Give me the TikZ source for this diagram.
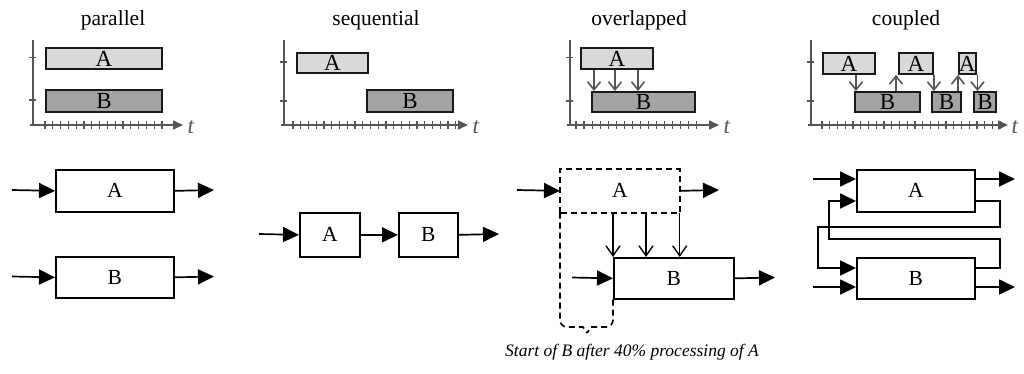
\documentclass[tikz,border=0pt]{standalone}
\usepackage{fontspec}
\setmainfont{Liberation Serif}
\usetikzlibrary{arrows.meta,calc}
\definecolor{axgray}{HTML}{555555}
\definecolor{fillA}{HTML}{D9D9D9}
\definecolor{fillB}{HTML}{A3A3A3}
\tikzset{
  x=1pt,y=-1pt,
  ax/.style={draw=axgray,line width=1.6pt},
  axarrow/.style={ax,-{Triangle[length=10pt,width=9pt]}},
  tbox/.style={draw=black!90,line width=1.9pt,inner sep=0pt,anchor=north west,font=\fontsize{23}{23}\selectfont},
  tA/.style={tbox,fill=fillA},
  tB/.style={tbox,fill=fillB},
  tarr/.style={draw=axgray,line width=1.6pt,-{Straight Barb[length=8pt,width=13pt,line width=1.6pt]}},
  title/.style={font=\fontsize{21.5}{21.5}\selectfont},
  tlab/.style={font=\fontsize{23}{23}\selectfont\itshape,text=axgray},
  lbox/.style={draw,line width=1.7pt,inner sep=0pt,anchor=north west,font=\fontsize{21.5}{21.5}\selectfont},
  flow/.style={line width=1.7pt,-{Triangle[length=16pt,width=15pt]}},
  vflow/.style={line width=1.4pt,-{Straight Barb[length=10pt,width=14pt,line width=1.4pt]}},
  dsh/.style={line width=1.6pt,dash pattern=on 6pt off 4pt},
}
\begin{document}
\begin{tikzpicture}
\useasboundingbox (0,0) rectangle (1024,373);
% ---------------- top row: timelines ----------------
% parallel
\node[title] (t1) at (113,20) {parallel};
\draw[ax] (33,40) -- (33,125);
\draw[axarrow] (30,125) -- (183,125);
\node[tlab,anchor=west] (tt1) at (184,127) {t};
\foreach \y in {57.5,100} \draw[ax] (29,\y) -- (36,\y);
\foreach \i in {0,...,15} \draw[ax,line width=1.2pt] (45+7.8*\i,121) -- (45+7.8*\i,129);
\node[tA,minimum width=116pt,minimum height=21pt] (pA) at (45,47) {A};
\node[tB,minimum width=116pt,minimum height=22pt] (pB) at (45,89) {B};
% sequential
\node[title] (t2) at (376,20) {sequential};
\draw[ax] (284,40) -- (284,125);
\draw[axarrow] (281,125) -- (468,125);
\node[tlab,anchor=west] (tt2) at (469,127) {t};
\foreach \y in {62,101} \draw[ax] (280,\y) -- (287,\y);
\foreach \i in {0,...,21} \draw[ax,line width=1.2pt] (293+7.75*\i,121) -- (293+7.75*\i,129);
\node[tA,minimum width=71pt,minimum height=20pt] (sA) at (296,52) {A};
\node[tB,minimum width=86pt,minimum height=22pt] (sB) at (366,89) {B};
% overlapped
\node[title] (t3) at (639,20) {overlapped};
\draw[ax] (570,40) -- (570,125);
\draw[axarrow] (567,125) -- (719,125);
\node[tlab,anchor=west] (tt3) at (720,127) {t};
\foreach \y in {57.5,101} \draw[ax] (566,\y) -- (573,\y);
\foreach \i in {0,...,15} \draw[ax,line width=1.2pt] (576+8.05*\i,121) -- (576+8.05*\i,129);
\node[tA,minimum width=72pt,minimum height=21pt] (oA) at (580,47) {A};
\node[tB,minimum width=103pt,minimum height=20pt] (oB) at (591,91) {B};
\foreach \x/\n in {14/a,35/b,58/c}{
  \path (oA.south west) ++(\x,0) coordinate (ov\n);
  \draw[tarr] (ov\n) -- (ov\n |- oB.north);
}
% coupled
\node[title] (t4) at (906,20) {coupled};
\draw[ax] (811,40) -- (811,125);
\draw[axarrow] (808,125) -- (1008,125);
\node[tlab,anchor=west] (tt4) at (1008,127) {t};
\foreach \y in {62,101} \draw[ax] (807,\y) -- (814,\y);
\foreach \i in {0,...,23} \draw[ax,line width=1.2pt] (822+7.75*\i,121) -- (822+7.75*\i,129);
\node[tA,minimum width=52pt,minimum height=21pt] (cA1) at (822,52) {A};
\node[tA,minimum width=34pt,minimum height=21pt] (cA2) at (898,52) {A};
\node[tA,minimum width=15pt,minimum height=21pt] (cA3) at (958,52) {A};
\node[tB,minimum width=65pt,minimum height=20pt] (cB1) at (854,91) {B};
\node[tB,minimum width=29pt,minimum height=20pt] (cB2) at (931,91) {B};
\node[tB,minimum width=22pt,minimum height=20pt] (cB3) at (973,91) {B};
\path (cA1.south west) ++(34,0) coordinate (c1);
\draw[tarr] (c1) -- (c1 |- cB1.north);
\path (cA2.south west) ++(-2,0) coordinate (c2);
\draw[tarr] (c2 |- cB1.north) -- (c2);
\coordinate (c3) at (cA2.south east);
\draw[tarr] (c3) -- (c3 |- cB2.north);
\coordinate (c4) at (cA3.south west);
\draw[tarr] (c4 |- cB2.north) -- (c4);
\path (cA3.south east) ++(1,0) coordinate (c5);
\draw[tarr] (c5) -- (c5 |- cB3.north);
% ---------------- bottom row ----------------
% parallel
\node[lbox,minimum width=118pt,minimum height=42pt] (PA) at (55,169) {A};
\node[lbox,minimum width=118pt,minimum height=41pt] (PB) at (55,256) {B};
\coordinate (PAi) at (12,190);
\coordinate (PAo) at (214,190);
\coordinate (PBi) at (12,276.5);
\coordinate (PBo) at (214,276.5);
\draw[flow] (PAi) -- (PA.west);
\draw[flow] (PA.east) -- (PAo);
\draw[flow] (PBi) -- (PB.west);
\draw[flow] (PB.east) -- (PBo);
% sequential
\node[lbox,minimum width=60pt,minimum height=44pt] (SA) at (299,212) {A};
\node[lbox,minimum width=59pt,minimum height=44pt] (SB) at (398,212) {B};
\coordinate (SAi) at (259,234);
\coordinate (SBo) at (499,234);
\draw[flow] (SAi) -- (SA.west);
\draw[flow] (SA.east) -- (SB.west);
\draw[flow] (SB.east) -- (SBo);
% overlapped
\node[lbox,draw=none,minimum width=118pt,minimum height=42pt] (OA) at (560,169) {A};
\draw[dsh] (OA.south west) -- (OA.north west) -- (OA.north east) -- (OA.south east) -- cycle;
\node[lbox,minimum width=120pt,minimum height=41pt] (OB) at (613,257) {B};
\coordinate (OAi) at (517,190);
\coordinate (OAo) at (719,190);
\coordinate (OBi) at (572,277.5);
\coordinate (OBo) at (775,277.5);
\draw[flow] (OAi) -- (OA.west);
\draw[flow] (OA.east) -- (OAo);
\draw[flow] (OBi) -- (OB.west);
\draw[flow] (OB.east) -- (OBo);
\coordinate (Om) at ($(OB.north west)+(33,0)$);
\draw[vflow] (OA.south -| OB.north west) -- (OB.north west);
\draw[vflow] (OA.south -| Om) -- (Om);
\draw[vflow] (OA.south east) -- (OA.south east |- OB.north);
\coordinate (brtip) at (587,333);
\draw[dsh] (OA.south west) -- (560,320) to[out=-90,in=180] (567,327) -- (583,327) -- (brtip);
\draw[dsh] (OB.south west) -- (613,320) to[out=-90,in=0] (606,327) -- (591,327) -- (brtip);
\node[font=\fontsize{17.5}{17.5}\selectfont\itshape] (cap) at (632,352) {Start of B after 40\% processing of A};
% coupled
\node[lbox,minimum width=118pt,minimum height=42pt] (CA) at (856,169) {A};
\node[lbox,minimum width=118pt,minimum height=41pt] (CB) at (856,257) {B};
\coordinate (CAi) at (813,179);
\coordinate (CAo) at (1015,179);
\coordinate (CBi) at (813,287);
\coordinate (CBo) at (1015,287);
\draw[flow] (CAi) -- (CAi -| CA.west);
\draw[flow] (CAo -| CA.east) -- (CAo);
\draw[flow] (CBi) -- (CBi -| CB.west);
\draw[flow] (CBo -| CB.east) -- (CBo);
\coordinate (fa) at (974,201);
\coordinate (fb) at (974,268);
\draw[flow] (fa) -- (1000,201) -- (1000,227) -- (818,227) -- (818,268) -- (fb -| CB.west);
\draw[flow] (fb) -- (1000,268) -- (1000,239) -- (829,239) -- (829,201) -- (fa -| CA.west);
\end{tikzpicture}
\end{document}
